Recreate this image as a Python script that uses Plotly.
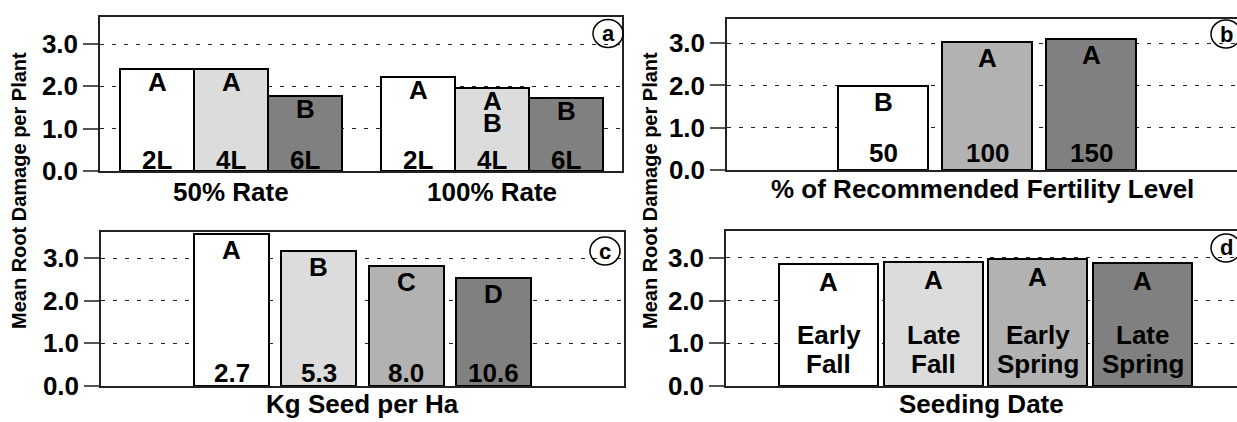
import plotly.graph_objects as go

# ---------------- data ----------------
rate_groups = ["50% Rate", "100% Rate"]
lep_levels = ["2L", "4L", "6L"]
damage_a_50 = [2.41, 2.40, 1.77]
damage_a_100 = [2.22, 1.97, 1.73]
letters_a_50 = ["A", "A", "B"]
letters_a_100 = ["A", "A\nB", "B"]

fert_levels = ["50", "100", "150"]
damage_b = [1.99, 3.02, 3.10]
letters_b = ["B", "A", "A"]

seed_rates = ["2.7", "5.3", "8.0", "10.6"]
damage_c = [3.56, 3.16, 2.81, 2.53]
letters_c = ["A", "B", "C", "D"]

seeding_dates = ["Early\nFall", "Late\nFall", "Early\nSpring", "Late\nSpring"]
damage_d = [2.86, 2.91, 2.97, 2.88]
letters_d = ["A", "A", "A", "A"]

y_ticks = [0, 1, 2, 3]

# ---------------- styling ----------------
W, H = 1237, 422
FONT = "Liberation Sans"
WHITE, LIGHT, MID, DARK = "#ffffff", "#dcdcdc", "#b2b2b2", "#808080"
LBL = 26


def px_x(p):
    return p / W


def px_y(p):
    return 1 - p / H


fig = go.Figure()

panels = {}
group_step = 3.53
pos_a = [g * group_step + i for g in range(len(rate_groups)) for i in range(len(lep_levels))]
panels["a"] = dict(ax="", x=pos_a, y=damage_a_50 + damage_a_100,
                   letters=letters_a_50 + letters_a_100, labels=lep_levels * 2,
                   colors=[WHITE, LIGHT, DARK] * 2, width=1.0, top=13, bot=11, lsp=22)
panels["b"] = dict(ax="2", x=list(range(len(fert_levels))), y=damage_b,
                   letters=letters_b, labels=fert_levels,
                   colors=[WHITE, MID, DARK], width=0.865, top=16, bot=17, lsp=22)
panels["c"] = dict(ax="3", x=list(range(len(seed_rates))), y=damage_c,
                   letters=letters_c, labels=seed_rates,
                   colors=[WHITE, LIGHT, MID, DARK], width=0.86, top=16, bot=13, lsp=22)
panels["d"] = dict(ax="4", x=list(range(len(seeding_dates))), y=damage_d,
                   letters=letters_d, labels=seeding_dates,
                   colors=[WHITE, LIGHT, MID, DARK], width=0.945, top=18, bot=22, lsp=29)

annotations = []
for key, p in panels.items():
    xa, ya = "x" + p["ax"], "y" + p["ax"]
    fig.add_trace(go.Bar(
        x=p["x"], y=p["y"], width=p["width"],
        marker=dict(color=p["colors"], line=dict(color="black", width=2)),
        xaxis=xa, yaxis=ya, showlegend=False, hoverinfo="y",
    ))
    for xv, yv, let, lab in zip(p["x"], p["y"], p["letters"], p["labels"]):
        lines = let.split("\n")
        for k, ln in enumerate(lines):
            ann = dict(
                x=xv, y=yv, xref=xa, yref=ya, text=ln, showarrow=False,
                yanchor="middle", yshift=-p["top"] - k * 22,
                font=dict(family=FONT, size=LBL, color="black", weight="bold"),
            )
            if len(lines) > 1:
                ann.update(height=20, valign="middle")
            annotations.append(ann)
        blines = lab.split("\n")
        n = len(blines)
        for k, ln in enumerate(blines):
            annotations.append(dict(
                x=xv, y=0, xref=xa, yref=ya, text=ln, showarrow=False,
                yanchor="middle", yshift=p["bot"] + (n - 1 - k) * p["lsp"],
                font=dict(family=FONT, size=LBL, color="black", weight="bold"),
            ))

axis_common = dict(showline=True, mirror=True, linecolor="#222222", linewidth=1.5,
                   zeroline=False, fixedrange=True, automargin=False)
yaxis_common = dict(
    axis_common, tickvals=y_ticks, tickformat=".1f", ticks="outside",
    ticklen=15, tickwidth=1.5, tickcolor="#555555",
    tickfont=dict(family=FONT, size=26, color="black", weight="bold"),
    showgrid=True, gridcolor="#222222", gridwidth=1, griddash="4px,8px",
)

geom = {
    "a": dict(x=(100, 622), y=(17, 171), xr=[-0.77, 6.28], yr=[0, 3.64]),
    "b": dict(x=(727, W), y=(19, 170), xr=[-1.5, (W - 883) / 104], yr=[0, 3.57]),
    "c": dict(x=(101, 624), y=(232, 386), xr=[-1.50, 4.50], yr=[0, 3.61]),
    "d": dict(x=(726, W), y=(231, 386), xr=[-0.98, (W - 828.5) / 104.7], yr=[0, 3.63]),
}

layout_axes = {}
for key, g in geom.items():
    ax = panels[key]["ax"]
    xd = dict(axis_common, domain=[px_x(g["x"][0]), px_x(g["x"][1])], range=g["xr"],
              anchor="y" + ax, showgrid=False, ticks="", showticklabels=False)
    yd = dict(yaxis_common, domain=[px_y(g["y"][1]), px_y(g["y"][0])], range=g["yr"],
              anchor="x" + ax)
    layout_axes["xaxis" + ax] = xd
    layout_axes["yaxis" + ax] = yd

# group labels of panel a, centred under each group of bars
for gi, name in enumerate(rate_groups):
    cx = sum(pos_a[gi * 3:(gi + 1) * 3]) / 3
    annotations.append(dict(
        x=cx, y=0, xref="x", yref="y domain", text=name, showarrow=False,
        yanchor="middle", yshift=-21,
        font=dict(family=FONT, size=26, color="black", weight="bold"),
    ))

x_titles = {"b": "% of Recommended Fertility Level", "c": "Kg Seed per Ha", "d": "Seeding Date"}
for key, t in x_titles.items():
    ax = panels[key]["ax"]
    annotations.append(dict(
        x=0.5, y=0, xref="x" + ax + " domain", yref="y" + ax + " domain",
        text=t, showarrow=False, yanchor="middle", yshift=-19 if key == "b" else -18,
        font=dict(family=FONT, size=26, color="black", weight="bold"),
    ))

for xp in (19, 650):
    annotations.append(dict(
        x=px_x(xp), y=px_y(191), xref="paper", yref="paper",
        text="Mean Root Damage per Plant", textangle=-90, showarrow=False,
        xanchor="center", yanchor="middle",
        font=dict(family=FONT, size=20, color="black", weight="bold"),
    ))

shapes = []
circles = {"a": (608, 33.5), "b": (1226, 34), "c": (605, 251), "d": (1226, 248)}
for key, (cx, cy) in circles.items():
    shapes.append(dict(
        type="circle", xref="paper", yref="paper",
        x0=px_x(cx - 15), x1=px_x(cx + 15), y0=px_y(cy + 14), y1=px_y(cy - 14),
        line=dict(color="black", width=1.5), fillcolor="rgba(0,0,0,0)",
    ))
    annotations.append(dict(
        x=px_x(cx), y=px_y(cy), xref="paper", yref="paper", text=key,
        showarrow=False, xanchor="center", yanchor="middle",
        font=dict(family=FONT, size=22, color="black", weight="bold"),
    ))

fig.update_layout(
    width=W, height=H, margin=dict(l=0, r=0, t=0, b=0, autoexpand=False),
    paper_bgcolor="white", plot_bgcolor="white",
    annotations=annotations, shapes=shapes, bargap=0,
    **layout_axes,
)

fig.write_html(
    "out.html",
    config={"displayModeBar": False},
    post_script="document.body.style.margin='0';document.body.style.overflow='hidden';",
)
